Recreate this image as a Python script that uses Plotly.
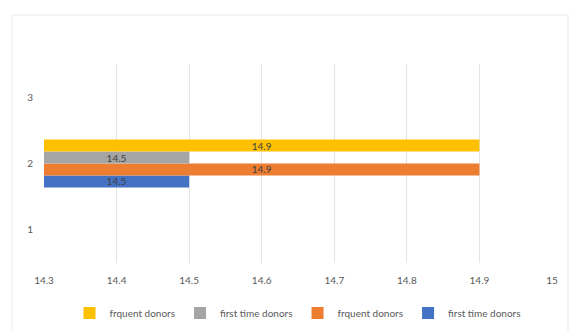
import plotly.graph_objects as go

# Donor counts per category (horizontal clustered bars)
category = [2]
axis_start = 14.3
series_names = ["first time donors", "frquent donors", "first time donors", "frquent donors"]
series_values = [[14.5], [14.9], [14.5], [14.9]]
series_colors = ["#4472C4", "#ED7D31", "#A5A5A5", "#FFC000"]
legend_ranks = [4, 3, 2, 1]

x_ticks = [14.3, 14.4, 14.5, 14.6, 14.7, 14.8, 14.9, 15]
x_tick_text = ["14.3", "14.4", "14.5", "14.6", "14.7", "14.8", "14.9", "15"]
y_ticks = [1, 2, 3]

fig = go.Figure()
for name, vals, color, rank in zip(series_names, series_values, series_colors, legend_ranks):
    fig.add_trace(go.Bar(
        y=category,
        x=[v - axis_start for v in vals],
        base=axis_start,
        orientation="h",
        name=name,
        marker=dict(color=color, line=dict(width=0)),
        text=[f"{v:g}" for v in vals],
        textposition="inside",
        insidetextanchor="middle",
        constraintext="none",
        textfont=dict(color="#404040", size=10),
        legendrank=rank,
    ))

fig.update_layout(
    width=573, height=331,
    margin=dict(l=44, r=21, t=64, b=68, autoexpand=False),
    paper_bgcolor="white",
    plot_bgcolor="white",
    font=dict(family="Lato, sans-serif", size=10, color="#595959"),
    barmode="group",
    bargap=0.28,
    bargroupgap=0,
    showlegend=True,
    legend=dict(
        orientation="h",
        x=0.5, xanchor="center",
        yref="container",
        y=1 - 313 / 331, yanchor="middle",
        font=dict(size=10, color="#595959"),
        itemwidth=30,
        tracegroupgap=0,
    ),
    xaxis=dict(
        range=[14.3, 15],
        tickvals=x_ticks,
        ticktext=x_tick_text,
        showgrid=True,
        gridcolor="#E4E4E4",
        gridwidth=1,
        zeroline=False,
        showline=False,
        ticks="",
        ticklabelstandoff=10,
    ),
    yaxis=dict(
        range=[0.5, 3.5],
        tickvals=y_ticks,
        showgrid=False,
        zeroline=False,
        showline=False,
        ticks="",
        ticklabelstandoff=10,
    ),
)

# Light chart-area frame
fig.add_shape(
    type="rect", xref="paper", yref="paper",
    x0=(12 - 44) / 508, x1=(568 - 44) / 508,
    y0=(263 - 340) / 199, y1=(263 - 15) / 199,
    line=dict(color="#EBEBEB", width=1),
    fillcolor="rgba(0,0,0,0)",
    layer="below",
)

fig.write_html("out.html")
